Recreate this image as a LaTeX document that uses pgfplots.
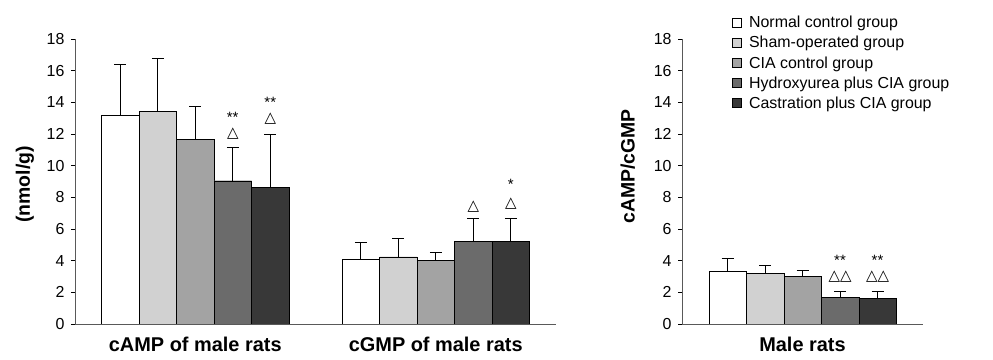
\documentclass[border=0pt]{standalone}
\usepackage{pgfplots}
\pgfplotsset{compat=1.18}
\usepackage{fontspec}
\setmainfont{Liberation Sans}
\newfontfamily\dejavu{DejaVu Sans}
\definecolor{cA}{gray}{1}
\definecolor{cB}{gray}{0.82}
\definecolor{cC}{gray}{0.64}
\definecolor{cD}{gray}{0.42}
\definecolor{cE}{gray}{0.22}
\definecolor{axc}{gray}{0.35}
\newcommand{\tri}{{\dejavu\fontsize{15}{15}\selectfont △}}
\newcommand{\sig}{{\fontsize{15}{15}\selectfont *}}
\pgfplotsset{
  common/.style={
    scale only axis, height=285bp,
    ymin=0, ymax=18, ytick={0,2,...,18},
    axis x line*=bottom, axis y line*=left,
    axis line style={axc, line width=0.9bp},
    tick style={black, line width=0.8bp},
    tick align=outside, major tick length=4bp,
    ybar=0pt, bar width=37.5bp,
    yticklabel style={font=\fontsize{16}{18}\selectfont, xshift=-3bp},
    /pgf/number format/assume math mode=true,
    xtick style={draw=none},
    xticklabel style={font=\bfseries\fontsize{20}{22}\selectfont, yshift=-6bp},
    ylabel style={font=\bfseries\fontsize{19.5}{22}\selectfont},
    extra x tick style={tick style={draw=black, line width=0.8bp}, major tick length=10bp, tick align=inside},
    error bars/y dir=plus, error bars/y explicit,
    error bars/error bar style={black, line width=1bp},
    error bars/error mark options={black, line width=1bp, mark size=6bp, rotate=90},
  },
}
\begin{document}
\begin{tikzpicture}
\useasboundingbox (0,0) rectangle (993bp,360bp);
\begin{axis}[common, at={(75bp,36bp)}, anchor=south west, width=481bp,
  xmin=0, xmax=2, xtick={0.5,1.5},
  xticklabels={cAMP of male rats, cGMP of male rats},
  extra x ticks={1,2}, extra x tick labels={},
  ylabel={(nmol/g)}, ylabel style={yshift=6bp, xshift=-3bp}]
\addplot[fill=cA, draw=black] coordinates {(0.5,13.16) +- (0,3.20) (1.5,4.12) +- (0,1.02)};
\addplot[fill=cB, draw=black] coordinates {(0.5,13.43) +- (0,3.33) (1.5,4.25) +- (0,1.14)};
\addplot[fill=cC, draw=black] coordinates {(0.5,11.67) +- (0,2.06) (1.5,4.00) +- (0,0.50)};
\addplot[fill=cD, draw=black] coordinates {(0.5,9.05) +- (0,2.07) (1.5,5.20) +- (0,1.48)};
\addplot[fill=cE, draw=black] coordinates {(0.5,8.65) +- (0,3.33) (1.5,5.20) +- (0,1.48)};
\node[xshift=37.5bp] at (axis cs:0.5,12.05) {\tri};
\node[xshift=37.5bp] at (axis cs:0.5,13.05) {\sig\sig};
\node[xshift=75bp] at (axis cs:0.5,12.97) {\tri};
\node[xshift=75bp] at (axis cs:0.5,14.0) {\sig\sig};
\node[xshift=37.5bp] at (axis cs:1.5,7.41) {\tri};
\node[xshift=75bp] at (axis cs:1.5,7.62) {\tri};
\node[xshift=75bp] at (axis cs:1.5,8.8) {\sig};
\end{axis}
\begin{axis}[common, at={(682bp,36bp)}, anchor=south west, width=241bp,
  xmin=0, xmax=1, xtick={0.5}, xticklabels={Male rats},
  extra x ticks={1}, extra x tick labels={},
  ylabel={cAMP/cGMP}, ylabel style={yshift=12bp, xshift=15bp},
  legend cell align=left,
  legend style={at={(axis description cs:0.205,1.08)}, anchor=north west, draw=none, fill=none,
    font=\fontsize{16}{18}\selectfont, inner sep=0pt, row sep=7bp,
    nodes={inner xsep=3bp, inner ysep=0bp}},
  legend image code/.code={\draw[#1, draw=black, line width=0.6bp] (0bp,-4.5bp) rectangle (9bp,4.5bp); \path (14bp,0bp);}]
\addplot[fill=cA, draw=black] coordinates {(0.5,3.35) +- (0,0.79)};
\addplot[fill=cB, draw=black] coordinates {(0.5,3.22) +- (0,0.45)};
\addplot[fill=cC, draw=black] coordinates {(0.5,3.01) +- (0,0.34)};
\addplot[fill=cD, draw=black] coordinates {(0.5,1.72) +- (0,0.36)};
\addplot[fill=cE, draw=black] coordinates {(0.5,1.66) +- (0,0.42)};
\legend{Normal control group, Sham-operated group, CIA control group, Hydroxyurea plus CIA group, Castration plus CIA group}
\node[xshift=37.5bp] at (axis cs:0.5,2.97) {\tri\tri};
\node[xshift=37.5bp] at (axis cs:0.5,4.0) {\sig\sig};
\node[xshift=75bp] at (axis cs:0.5,2.97) {\tri\tri};
\node[xshift=75bp] at (axis cs:0.5,4.0) {\sig\sig};
\end{axis}
\end{tikzpicture}
\end{document}
